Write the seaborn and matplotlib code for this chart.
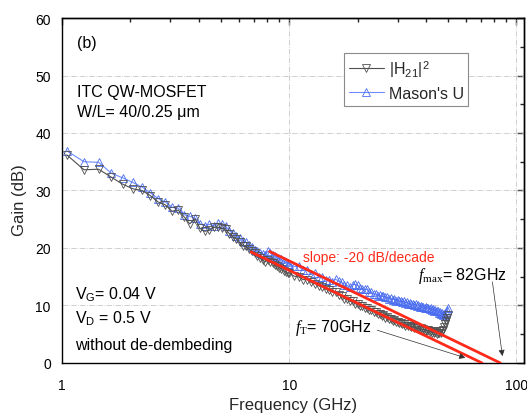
import matplotlib
matplotlib.use("Agg")
import matplotlib.pyplot as plt
import matplotlib.ticker as mticker
import seaborn as sns
import numpy as np

# measured frequency points (GHz)
freq_low = [1.05, 1.25, 1.45, 1.65, 1.85, 2.05, 2.25, 2.45, 2.65, 2.85,
            3.05, 3.25, 3.45, 3.65, 3.85, 4.05, 4.25, 4.45, 4.65, 4.85,
            5.05, 5.25, 5.45, 5.65, 5.85, 6.05, 6.25, 6.45, 6.65, 6.85,
            7.05, 7.25, 7.45, 7.65, 7.85, 8.05, 8.25, 8.45, 8.65, 8.85,
            9.05, 9.25, 9.45, 9.65, 9.85]
freq_high = [10.0, 10.5, 11.0, 11.5, 12.0, 12.5, 13.0, 13.5, 14.0, 14.5,
             15.0, 15.5, 16.0, 16.5, 17.0, 17.5, 18.0, 18.5, 19.0, 19.5,
             20.0, 20.5, 21.0, 21.5, 22.0, 22.5, 23.0, 23.5, 24.0, 24.5,
             25.0, 25.5, 26.0, 26.5, 27.0, 27.5, 28.0, 28.5, 29.0, 29.5,
             30.0, 30.5, 31.0, 31.5, 32.0, 32.5, 33.0, 33.5, 34.0, 34.5,
             35.0, 35.5, 36.0, 36.5, 37.0, 37.5, 38.0, 38.5, 39.0, 39.5,
             40.0, 40.5, 41.0, 41.5, 42.0, 42.5, 43.0, 43.5, 44.0, 44.5,
             45.0, 45.5, 46.0, 46.5, 47.0, 47.5, 48.0, 48.5, 49.0, 49.5,
             50.0]
freq = freq_low + freq_high

# |H21|^2 (dB)
h21_low = [36.2, 33.6, 33.7, 32.3, 31.1, 30.3, 30.0, 29.1, 28.0, 27.5,
           26.4, 26.6, 25.4, 24.2, 25.1, 23.4, 22.9, 23.1, 23.6, 23.6,
           23.4, 23.3, 22.5, 21.9, 21.6, 21.0, 20.4, 20.3, 19.8, 19.5,
           19.1, 18.6, 18.3, 17.9, 17.6, 17.9, 17.6, 17.4, 17.0, 16.9,
           16.6, 16.3, 16.0, 15.9, 15.6]
h21_high = [15.7, 15.1, 15.0, 14.5, 14.5, 14.0, 13.8, 13.4, 13.3, 12.8,
            12.7, 12.3, 12.3, 11.8, 11.7, 11.2, 11.2, 10.7, 10.7, 10.3,
            10.3, 9.9, 9.9, 9.5, 9.6, 9.2, 9.3, 8.9, 8.9, 8.5,
            8.6, 8.2, 8.3, 7.9, 8.0, 7.6, 7.7, 7.3, 7.5, 7.1,
            7.2, 6.9, 7.0, 6.7, 6.8, 6.5, 6.7, 6.4, 6.5, 6.2,
            6.4, 6.1, 6.3, 6.0, 6.1, 5.8, 6.0, 5.7, 5.9, 5.6,
            5.8, 5.5, 5.7, 5.4, 5.6, 5.3, 5.5, 5.2, 5.4, 5.1,
            5.3, 5.2, 5.5, 5.3, 5.6, 5.8, 6.2, 6.7, 7.3, 7.8,
            8.3]
h21 = h21_low + h21_high

# Mason's U (dB)
mason_low = [36.9, 35.0, 34.9, 33.0, 32.2, 31.4, 30.6, 29.6, 28.6, 28.0,
             27.1, 26.9, 25.8, 25.5, 25.2, 24.2, 23.9, 24.1, 23.9, 24.3,
             24.1, 23.8, 23.0, 22.6, 22.1, 21.7, 21.3, 21.0, 20.6, 20.1,
             19.7, 19.5, 19.2, 19.0, 18.8, 19.4, 19.2, 18.8, 18.6, 18.3,
             18.1, 18.0, 17.7, 17.5, 17.3]
mason_high = [17.3, 16.8, 16.8, 16.1, 16.1, 15.5, 15.6, 15.0, 15.0, 14.5,
              14.5, 14.1, 14.6, 14.2, 14.0, 13.5, 13.5, 13.2, 13.6, 13.7,
              13.5, 13.0, 12.9, 12.8, 12.8, 12.3, 12.3, 12.0, 12.0, 11.7,
              11.8, 11.6, 11.6, 11.4, 11.4, 11.2, 11.3, 11.0, 11.1, 10.8,
              11.0, 10.7, 10.8, 10.6, 10.7, 10.5, 10.6, 10.3, 10.5, 10.2,
              10.3, 10.1, 10.2, 9.9, 10.1, 9.8, 9.9, 9.7, 9.8, 9.6,
              9.7, 9.5, 9.6, 9.4, 9.5, 9.2, 9.4, 9.1, 9.2, 9.0,
              9.1, 8.7, 8.9, 8.5, 8.7, 8.3, 8.6, 8.2, 8.8, 9.3,
              9.6]
mason = mason_low + mason_high

# -20 dB/decade extrapolation lines (end points)
ft_line_f = [6.8, 70.6]
ft_line_g = [19.3, 0.0]
fmax_line_f = [8.2, 85.0]
fmax_line_g = [19.4, 0.0]

sns.set_theme(style="white")
plt.rcParams["font.family"] = ["Liberation Sans", "DejaVu Sans"]
plt.rcParams["mathtext.fontset"] = "custom"
plt.rcParams["mathtext.rm"] = "Liberation Serif"
plt.rcParams["mathtext.it"] = "Liberation Serif:italic"
plt.rcParams["mathtext.sf"] = "Liberation Sans"

fig = plt.figure(figsize=(5.27, 4.14), dpi=100)
ax = fig.add_axes([0.1176, 0.1208, 0.8767, 0.8333])
ax.set_xscale("log")

sns.lineplot(x=freq, y=h21, ax=ax, color="#505050", lw=0.8, marker="v",
             markersize=6, markerfacecolor="none", markeredgecolor="#505050",
             markeredgewidth=0.6, label=r"|H$_{\mathsf{21}}$|$^{\mathsf{2}}$",
             zorder=3)
sns.lineplot(x=freq, y=mason, ax=ax, color="#6f8cff", lw=0.8, marker="^",
             markersize=6, markerfacecolor="none", markeredgecolor="#4a6cf0",
             markeredgewidth=0.6, label="Mason's U", zorder=2)
sns.lineplot(x=ft_line_f, y=ft_line_g, ax=ax, color="#ff2a1a", lw=2, zorder=4)
sns.lineplot(x=fmax_line_f, y=fmax_line_g, ax=ax, color="#ff2a1a", lw=2, zorder=4)

ax.set_xlim(1, 108)
ax.set_ylim(0, 60)

ax.xaxis.set_major_locator(mticker.FixedLocator([1, 10, 100]))
ax.xaxis.set_major_formatter(mticker.FixedFormatter(["1", "10", "100"]))
ax.xaxis.set_minor_locator(mticker.LogLocator(base=10, subs=np.arange(2, 10)))
ax.xaxis.set_minor_formatter(mticker.NullFormatter())
ax.yaxis.set_major_locator(mticker.MultipleLocator(10))
ax.yaxis.set_minor_locator(mticker.MultipleLocator(5))

ax.tick_params(axis="both", which="major", direction="out", length=5,
               width=1, labelsize=10, color="black", labelcolor="black", pad=3)
ax.tick_params(axis="both", which="minor", direction="out", length=3,
               width=1, color="black")
ax.tick_params(axis="x", which="major", pad=6)

# inward ticks on the top and right
top = ax.secondary_xaxis("top")
top.set_xscale("log")
top.xaxis.set_major_locator(mticker.FixedLocator([1, 10, 100]))
top.xaxis.set_minor_locator(mticker.LogLocator(base=10, subs=np.arange(2, 10)))
top.tick_params(which="major", direction="in", length=5, width=1, labeltop=False)
top.tick_params(which="minor", direction="in", length=3, width=1)
top.xaxis.set_minor_formatter(mticker.NullFormatter())
right = ax.secondary_yaxis("right")
right.yaxis.set_major_locator(mticker.MultipleLocator(10))
right.yaxis.set_minor_locator(mticker.MultipleLocator(5))
right.tick_params(which="major", direction="in", length=5, width=1, labelright=False)
right.tick_params(which="minor", direction="in", length=3, width=1)
for sec in (top, right):
    for sp in sec.spines.values():
        sp.set_linewidth(1)
        sp.set_color("black")

for sp in ax.spines.values():
    sp.set_linewidth(1)
    sp.set_color("black")

ax.grid(True, which="major", color="#c8c8c8", linestyle="-.", linewidth=0.6)
ax.set_axisbelow(True)

ax.set_xlabel("Frequency (GHz)", fontsize=12, va="top")
ax.set_ylabel("Gain (dB)", fontsize=12)
ax.xaxis.set_label_coords(0.5, -0.098)
ax.yaxis.set_label_coords(-0.076, 0.475)

leg = ax.legend(loc="upper left", bbox_to_anchor=(0.61, 0.899), borderaxespad=0,
                fontsize=11.5, frameon=True, fancybox=False, edgecolor="#8a8a8a",
                framealpha=1, handlelength=2.2, handletextpad=0.3,
                borderpad=0.3, labelspacing=0.45)
leg.get_frame().set_linewidth(0.8)

txt = dict(transform=ax.transAxes, fontsize=11.5, color="black", ha="left", va="center")
ax.text(0.0325, 0.930, "(b)", **txt)
ax.text(0.0325, 0.788, "ITC QW-MOSFET", **txt)
ax.text(0.0325, 0.730, "W/L= 40/0.25 μm", **txt)
ax.text(0.028, 0.200, r"V$_{\mathsf{G}}$= 0.04 V", **txt)
ax.text(0.028, 0.130, r"V$_{\mathsf{D}}$ = 0.5 V", **txt)
ax.text(0.028, 0.055, "without de-dembeding", **txt)
ax.text(0.522, 0.307, "slope: -20 dB/decade", transform=ax.transAxes,
        fontsize=10, color="#ff2a1a", ha="left", va="center")
ax.text(0.771, 0.255, r"$f_{\rm max}$= 82GHz", transform=ax.transAxes,
        fontsize=11.5, color="black", ha="left", va="center")
ax.text(0.504, 0.104, r"$f_{\rm T}$= 70GHz", transform=ax.transAxes,
        fontsize=11.5, color="black", ha="left", va="center")

arrow = dict(arrowstyle="-|>", color="#303030", lw=0.5, mutation_scale=9,
             shrinkA=0, shrinkB=0)
ax.annotate("", xy=(59.6, 0.9), xytext=(24.4, 5.7), arrowprops=arrow, zorder=5)
ax.annotate("", xy=(86.8, 1.2), xytext=(78.4, 14.1), arrowprops=arrow, zorder=5)

fig.savefig("out.png", dpi=100)
